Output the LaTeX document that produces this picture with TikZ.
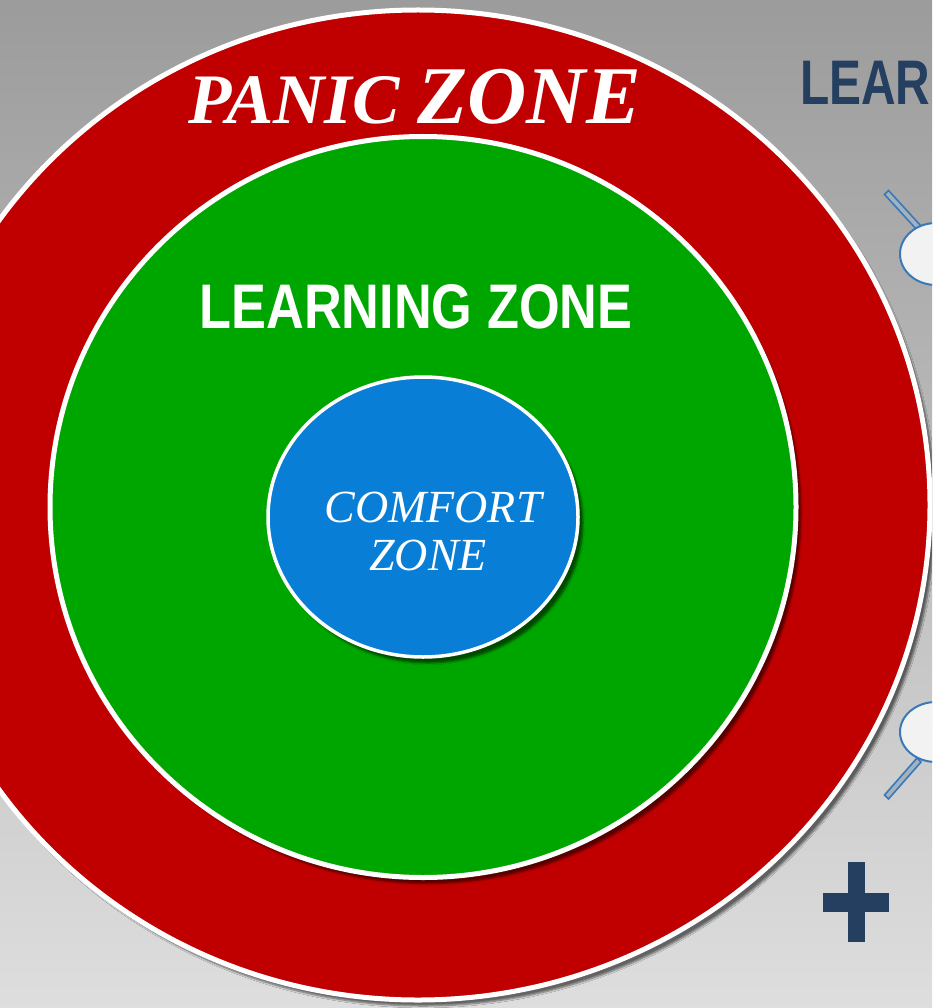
\documentclass[tikz,border=0pt]{standalone}
\usepackage{fontspec}
\setmainfont{Liberation Serif}
\newfontfamily\sansbold{Liberation Sans}
\usetikzlibrary{shadows.blur,shapes.geometric}
\definecolor{panicred}{HTML}{C00000}
\definecolor{learngreen}{HTML}{00A600}
\definecolor{comfortblue}{HTML}{087ED6}
\definecolor{navy}{HTML}{243F60}
\definecolor{glassblue}{HTML}{3A78B8}
\definecolor{glassfill}{HTML}{F2F2F2}
\tikzset{
  zone/.style={ellipse, draw=white, inner sep=0pt,
    blur shadow={shadow xshift=5pt, shadow yshift=-6pt, shadow blur steps=6, shadow opacity=55}},
  handle/.style={draw=glassblue, line width=1.6pt, fill=glassblue!35!gray!60},
  lens/.style={draw=glassblue, line width=2pt, fill=glassfill},
  plusbar/.style={fill=navy},
  ztext/.style={text=white, inner sep=0pt}
}
\begin{document}
\begin{tikzpicture}[x=1pt,y=-1pt]
\useasboundingbox (0,0) rectangle (932,1008);
\clip (0,0) rectangle (932,1008);
\shade[top color=black!39, bottom color=black!13] (0,0) rectangle (932,1008);
% right-side partial elements
\node[anchor=base west, inner sep=0pt, text=navy, font=\sansbold\bfseries\fontsize{63}{63}\selectfont, xscale=0.76] (lear) at (800,105) {LEAR};
\fill[handle] (884.5,194.5) -- (888.5,190.5) -- (921,226) -- (917,230) -- cycle;
\node[lens, ellipse, minimum width=72pt, minimum height=62pt] (lens1) at (936,254) {};
\fill[handle] (917,758) -- (921,762) -- (888.5,799) -- (884.5,795) -- cycle;
\node[lens, ellipse, minimum width=72pt, minimum height=60pt] (lens2) at (936,732) {};
\fill[plusbar] (848,862) rectangle (865,942);
\fill[plusbar] (823,893) rectangle (889,912);
% zones
\node[zone, fill=panicred, line width=5pt, minimum width=1024pt, minimum height=990pt] (panic) at (418,505) {};
\node[zone, fill=learngreen, line width=5pt, minimum width=746pt, minimum height=741pt] (learning) at (423,507) {};
\node[zone, fill=comfortblue, line width=3.5pt, minimum width=310pt, minimum height=280pt] (comfort) at (423,517) {};
% labels
\node[ztext, anchor=base west, font=\bfseries\itshape\fontsize{71}{72}\selectfont] (paniclbl) at (188,124)
  {PANIC {\fontsize{82}{82}\selectfont ZONE}};
\node[ztext, anchor=base, font=\sansbold\bfseries\fontsize{63}{63}\selectfont, xscale=0.83] (learnlbl) at (416,328) {LEARNING ZONE};
\node[ztext, anchor=base, font=\itshape\fontsize{46}{46}\selectfont] (comf1) at (433,522) {COMFORT};
\node[ztext, anchor=base, font=\itshape\fontsize{46}{46}\selectfont] (comf2) at (428,570) {ZONE};
\end{tikzpicture}
\end{document}
